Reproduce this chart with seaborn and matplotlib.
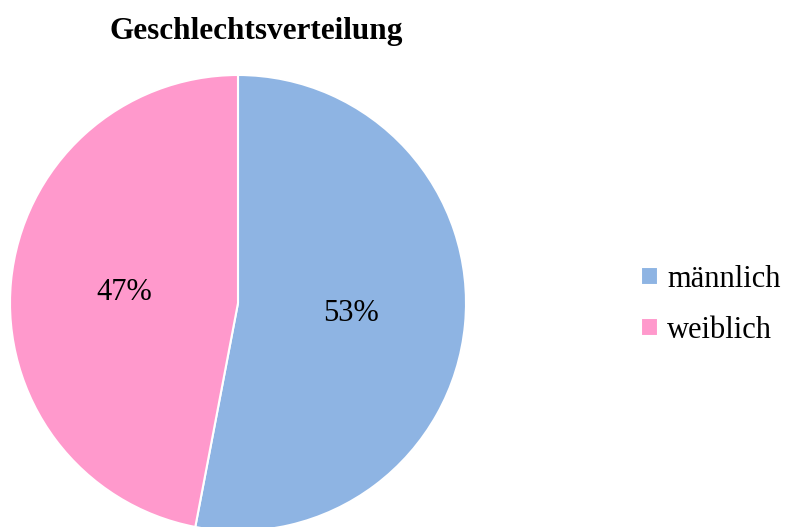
import matplotlib
matplotlib.use("Agg")
import matplotlib.pyplot as plt
import seaborn as sns

# Data -------------------------------------------------------------------------
categories = ["männlich", "weiblich"]
shares = [53, 47]
colors = ["#8EB4E3", "#FF99CC"]
title = "Geschlechtsverteilung"

sns.set_theme(style="white")
plt.rcParams["font.family"] = ["Liberation Serif", "DejaVu Serif"]
plt.rcParams["text.color"] = "black"

W, H = 787, 527
fig = plt.figure(figsize=(W / 100, H / 100), dpi=100)

# pie centred at (238, 303) px, radius 228 px
cx, cy, r = 238, 303, 228
ax = fig.add_axes([(cx - r) / W, (H - cy - r) / H, 2 * r / W, 2 * r / H])
wedges, _, autotexts = ax.pie(
    shares, colors=colors, startangle=90, counterclock=False,
    autopct=lambda p: f"{round(p)}%", pctdistance=0.5, radius=1.0,
    wedgeprops=dict(edgecolor="white", linewidth=1.5),
    textprops=dict(fontsize=22, color="black"))
ax.set_xlim(-1, 1)
ax.set_ylim(-1, 1)
ax.set_aspect("equal")
ax.axis("off")

fig.text(256 / W, 1 - 31 / H, title, ha="center", va="center",
         fontsize=22.5, fontweight="bold", color="black")

fig.legend(wedges, categories, loc="center left",
           bbox_to_anchor=(626 / W, 1 - 305 / H), frameon=False,
           fontsize=22, handlelength=0.55, handleheight=0.55,
           handletextpad=0.3, labelspacing=0.72, borderpad=0)

fig.savefig("out.png", dpi=100)
